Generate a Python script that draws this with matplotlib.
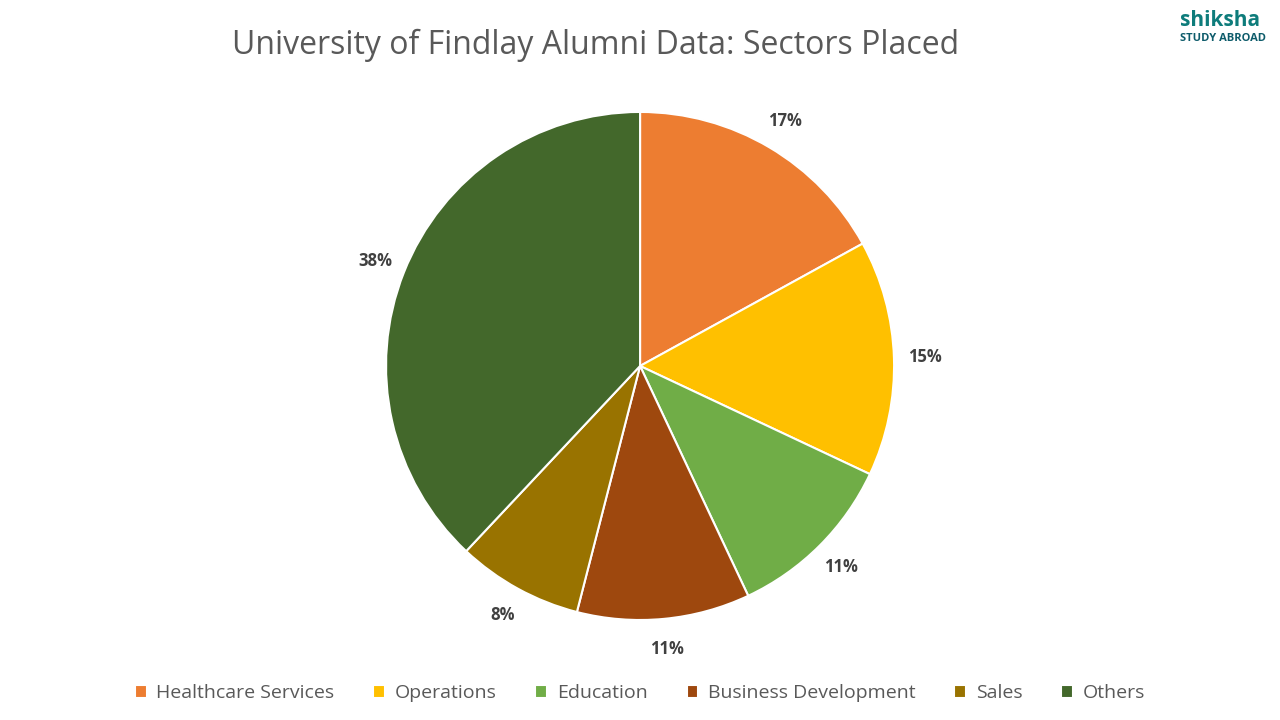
import matplotlib.pyplot as plt

sectors = ["Healthcare Services", "Operations", "Education",
           "Business Development", "Sales", "Others"]
shares = [17, 15, 11, 11, 8, 38]
colors = ["#ED7D31", "#FFC000", "#70AD47", "#9E480E", "#997300", "#43682B"]

plt.rcParams["font.family"] = ["Open Sans", "DejaVu Sans"]

fig = plt.figure(figsize=(12.8, 7.2), dpi=100)
fig.text(0.465, 0.937, "University of Findlay Alumni Data: Sectors Placed",
         ha="center", va="center", fontsize=23, color="#595959")

# logo as text
fig.text(0.922, 0.972, "shiksha", ha="left", va="center", fontsize=15,
         fontweight="bold", color="#0E7C7B")
fig.text(0.922, 0.947, "STUDY ABROAD", ha="left", va="center", fontsize=8,
         fontweight="bold", color="#0E5C6B")

ax = fig.add_axes([0.5 - 0.1984, 0.4917 - 0.3528, 0.3969, 0.7056])
wedges, texts = ax.pie(shares, colors=colors, startangle=90, counterclock=False,
                       labels=[f"{v}%" for v in shares], labeldistance=1.12,
                       wedgeprops=dict(edgecolor="white", linewidth=1.5),
                       textprops=dict(fontsize=12, fontweight="bold", color="#404040"))
for t in texts:
    t.set_ha("center")
ax.set_xlim(-1, 1)
ax.set_ylim(-1, 1)
ax.set_aspect("equal")

fig.legend(wedges, sectors, loc="center", bbox_to_anchor=(0.5, 0.037), ncol=6,
           frameon=False, fontsize=14, handlelength=0.6, handleheight=0.6,
           columnspacing=2.0, handletextpad=0.5, labelcolor="#595959")

fig.savefig("out.png", dpi=100)
